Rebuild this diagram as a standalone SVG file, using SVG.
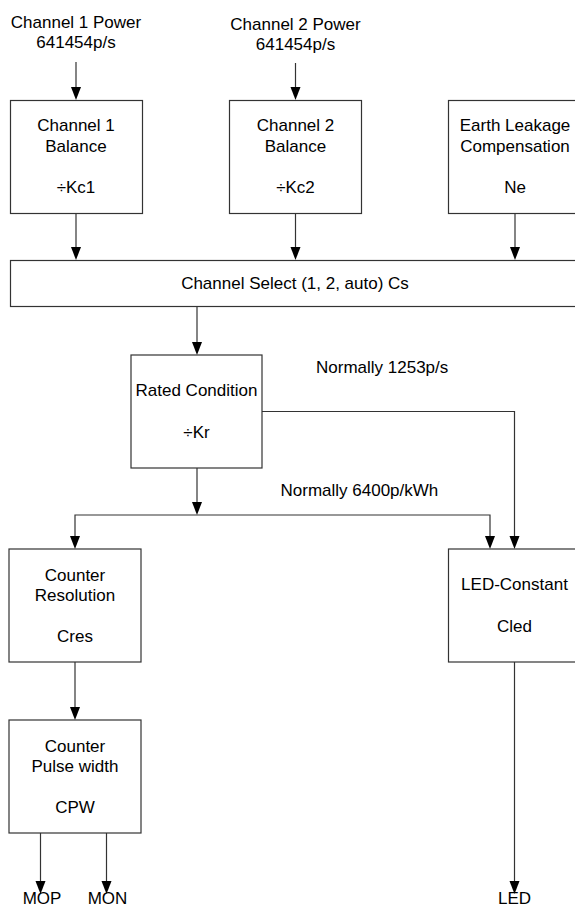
<svg xmlns="http://www.w3.org/2000/svg" width="575" height="908" viewBox="0 0 575 908">
<defs>
<style>
.box{fill:#fff;stroke:#333;stroke-width:1.2}
.ln{fill:none;stroke:#333;stroke-width:1.2}
.hd{fill:#000}
text{font-family:"Liberation Sans",Arial,sans-serif;font-size:17px;fill:#000;text-anchor:middle}
.l{text-anchor:start}
</style>
</defs>
<rect width="575" height="908" fill="#fff"/>
<g id="connectors">
<path class="ln" d="M76,62 V87"/><path class="hd" d="M71,87 L81,87 L76,100 Z"/>
<path class="ln" d="M295.5,63 V87"/><path class="hd" d="M290.5,87 L300.5,87 L295.5,100 Z"/>
<path class="ln" d="M76,214 V247"/><path class="hd" d="M71,247 L81,247 L76,260 Z"/>
<path class="ln" d="M295.5,214 V247"/><path class="hd" d="M290.5,247 L300.5,247 L295.5,260 Z"/>
<path class="ln" d="M515,214 V247"/><path class="hd" d="M510,247 L520,247 L515,260 Z"/>
<path class="ln" d="M197,306 V342"/><path class="hd" d="M192,342 L202,342 L197,355 Z"/>
<path class="ln" d="M262,411.5 H514.5 V536"/><path class="hd" d="M509.5,536 L519.5,536 L514.5,549 Z"/>
<path class="ln" d="M197,468 V502"/><path class="hd" d="M192,502 L202,502 L197,515 Z"/>
<path class="ln" d="M75,536 V515 H490 V536"/>
<path class="hd" d="M70,536 L80,536 L75,549 Z"/>
<path class="hd" d="M485,536 L495,536 L490,549 Z"/>
<path class="ln" d="M75,662 V707"/><path class="hd" d="M70,707 L80,707 L75,720 Z"/>
<path class="ln" d="M40.5,833 V881"/><path class="hd" d="M35.5,881 L45.5,881 L40.5,894 Z"/>
<path class="ln" d="M106.5,833 V881"/><path class="hd" d="M101.5,881 L111.5,881 L106.5,894 Z"/>
<path class="ln" d="M514.5,662 V881"/><path class="hd" d="M509.5,881 L519.5,881 L514.5,894 Z"/>
</g>
<g id="ch1power">
<text x="76" y="27.5">Channel 1 Power</text>
<text x="76" y="48">641454p/s</text>
</g>
<g id="ch2power">
<text x="295.5" y="29.5">Channel 2 Power</text>
<text x="295.5" y="50">641454p/s</text>
</g>
<g id="ch1bal">
<rect class="box" x="10.5" y="100.5" width="132" height="113"/>
<text x="76" y="131">Channel 1</text>
<text x="76" y="152">Balance</text>
<text x="76" y="193">÷Kc1</text>
</g>
<g id="ch2bal">
<rect class="box" x="229.5" y="100.5" width="132" height="113"/>
<text x="295.5" y="131">Channel 2</text>
<text x="295.5" y="152">Balance</text>
<text x="295.5" y="193">÷Kc2</text>
</g>
<g id="earth">
<rect class="box" x="448.5" y="100.5" width="140" height="113"/>
<text x="515" y="131">Earth Leakage</text>
<text x="515" y="152">Compensation</text>
<text x="515" y="193">Ne</text>
</g>
<g id="chselect">
<rect class="box" x="10.5" y="260.5" width="580" height="46"/>
<text x="295" y="289">Channel Select (1, 2, auto) Cs</text>
</g>
<g id="rated">
<rect class="box" x="131" y="355" width="131" height="113"/>
<text x="196.5" y="396">Rated Condition</text>
<text x="196.5" y="438">÷Kr</text>
</g>
<g id="lbl1253"><text class="l" x="316" y="373">Normally 1253p/s</text></g>
<g id="lbl6400"><text class="l" x="280.5" y="496">Normally 6400p/kWh</text></g>
<g id="cres">
<rect class="box" x="9" y="549" width="132" height="113"/>
<text x="75" y="581">Counter</text>
<text x="75" y="601">Resolution</text>
<text x="75" y="642">Cres</text>
</g>
<g id="cled">
<rect class="box" x="448.5" y="549" width="140" height="113"/>
<text x="514.5" y="590">LED-Constant</text>
<text x="514.5" y="632">Cled</text>
</g>
<g id="cpw">
<rect class="box" x="9" y="720" width="132" height="113"/>
<text x="75" y="752">Counter</text>
<text x="75" y="772">Pulse width</text>
<text x="75" y="813">CPW</text>
</g>
<g id="outputs">
<text x="42" y="904">MOP</text>
<text x="107.5" y="904">MON</text>
<text x="514.5" y="904">LED</text>
</g>
</svg>
